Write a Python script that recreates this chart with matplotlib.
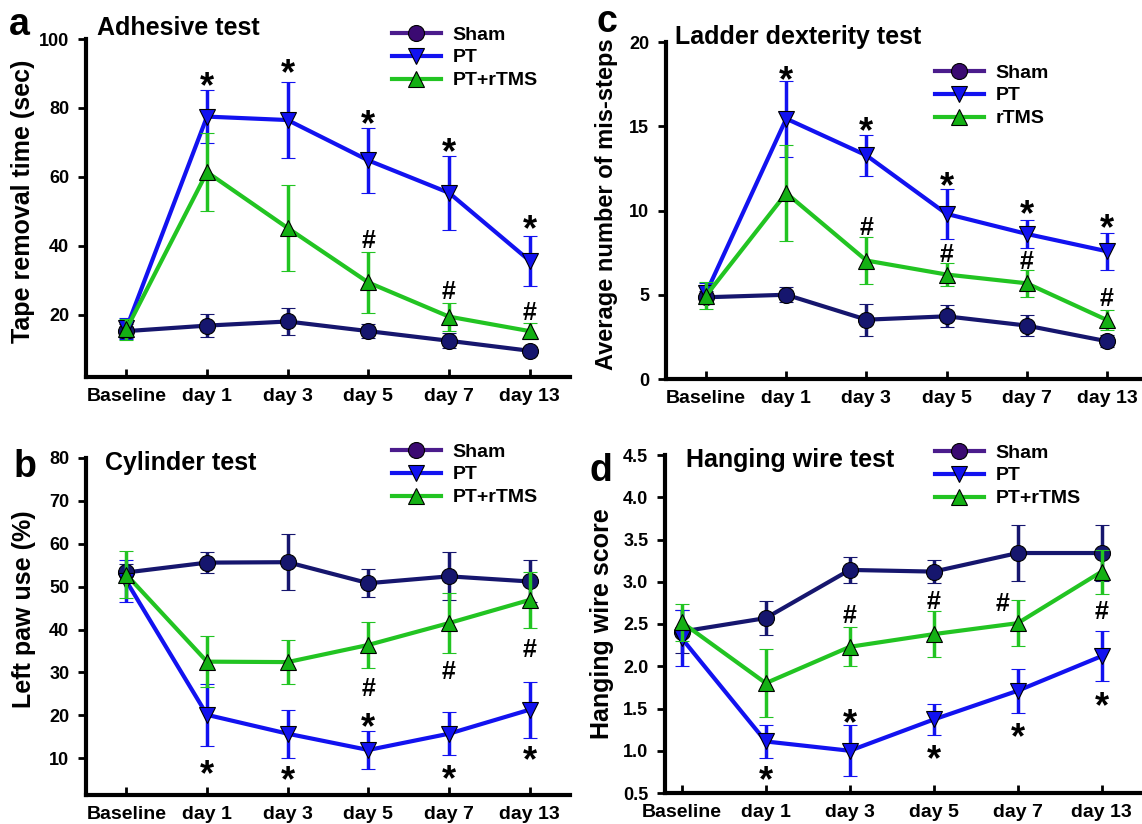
import matplotlib
matplotlib.use("Agg")
import matplotlib.pyplot as plt
from matplotlib.lines import Line2D

plt.rcParams["font.family"] = ["Liberation Sans", "DejaVu Sans"]
plt.rcParams["font.weight"] = "bold"

days = ["Baseline", "day 1", "day 3", "day 5", "day 7", "day 13"]
x = list(range(len(days)))

# a - adhesive test (sec)
adh_sham = [15.3, 16.9, 18.1, 15.3, 12.5, 9.6]
adh_sham_err = [2.0, 3.3, 4.0, 2.0, 2.2, 1.2]
adh_pt = [16.1, 77.5, 76.5, 64.8, 55.4, 35.7]
adh_pt_err = [3.0, 7.6, 11.0, 9.5, 10.8, 7.3]
adh_rtms = [15.8, 61.4, 45.2, 29.4, 19.5, 15.3]
adh_rtms_err = [3.0, 11.4, 12.6, 8.7, 4.1, 2.3]
adh_star = [(1, 89.1), (2, 92.7), (3, 77.9), (4, 69.9), (5, 47.4)]
adh_hash = [(3, 42.0), (4, 27.3), (5, 21.0)]

# b - cylinder test (%)
cyl_sham = [53.3, 55.6, 55.7, 50.8, 52.4, 51.2]
cyl_sham_err = [2.0, 2.4, 6.5, 3.2, 5.6, 4.9]
cyl_pt = [51.3, 20.1, 15.7, 11.9, 15.7, 21.3]
cyl_pt_err = [5.0, 7.2, 5.6, 4.5, 5.0, 6.5]
cyl_rtms = [52.8, 32.5, 32.4, 36.4, 41.5, 46.9]
cyl_rtms_err = [5.4, 6.0, 5.1, 5.4, 7.0, 6.6]
cyl_star = [(1, 8.4), (2, 6.9), (3, 19.3), (4, 7.3), (5, 11.6)]
cyl_hash = [(3, 26.7), (4, 30.6), (5, 35.7)]

# c - ladder dexterity test
lad_sham = [4.85, 5.0, 3.52, 3.72, 3.17, 2.24]
lad_sham_err = [0.4, 0.45, 0.95, 0.65, 0.6, 0.35]
lad_pt = [5.1, 15.45, 13.27, 9.8, 8.61, 7.58]
lad_pt_err = [0.6, 2.25, 1.2, 1.5, 0.85, 1.1]
lad_rtms = [4.95, 11.03, 7.03, 6.2, 5.68, 3.5]
lad_rtms_err = [0.8, 2.85, 1.4, 0.7, 0.8, 0.6]
lad_star = [(1, 18.3), (2, 15.25), (3, 12.0), (4, 10.3), (5, 9.5)]
lad_hash = [(2, 9.1), (3, 7.47), (4, 7.07), (5, 4.85)]

# d - hanging wire test
wire_sham = [2.41, 2.57, 3.14, 3.12, 3.34, 3.34]
wire_sham_err = [0.25, 0.2, 0.15, 0.14, 0.33, 0.33]
wire_pt = [2.33, 1.11, 1.0, 1.37, 1.71, 2.12]
wire_pt_err = [0.33, 0.2, 0.3, 0.18, 0.26, 0.3]
wire_rtms = [2.52, 1.8, 2.23, 2.38, 2.51, 3.12]
wire_rtms_err = [0.22, 0.4, 0.23, 0.27, 0.27, 0.26]
wire_star = [(1, 0.76), (2, 1.44), (3, 1.01), (4, 1.27), (5, 1.63)]
wire_hash = [(2, 2.62), (3, 2.79), (3.82, 2.76), (5, 2.67)]

SHAM = "#16166e"
PT = "#1212f0"
RTMS = "#22c422"
RTMS_FACE = "#14b014"
SHAM_LEG = "#4b1c8c"
SHAM_LEG_FACE = "#3b0a72"

W, H = 1142, 824
fig = plt.figure(figsize=(W / 100, H / 100), dpi=100)


def px_rect(left, right, top, bottom):
    return [left / W, 1 - bottom / H, (right - left) / W, (bottom - top) / H]


def draw_panel(ax, sham, sham_err, pt, pt_err, rtms, rtms_err):
    kw = dict(lw=3, ms=11.5, mec="black", mew=0.8, capsize=5, capthick=2.5, elinewidth=2.5)
    ax.errorbar(x, sham, yerr=sham_err, color=SHAM, marker="o", mfc=SHAM, zorder=3, **kw)
    ax.errorbar(x, pt, yerr=pt_err, color=PT, marker="v", mfc=PT, zorder=4, **kw)
    ax.errorbar(x, rtms, yerr=rtms_err, color=RTMS, marker="^", mfc=RTMS_FACE, zorder=5, **kw)
    for side in ["top", "right"]:
        ax.spines[side].set_visible(False)
    for side in ["left", "bottom"]:
        ax.spines[side].set_linewidth(3)
    ax.set_xticks(x)
    ax.set_xticklabels(days, fontsize=14, fontweight="bold")
    ax.tick_params(axis="x", direction="in", length=6, width=2, pad=8)
    ax.tick_params(axis="y", direction="out", length=6, width=2, pad=6, labelsize=13)
    for lab in ax.get_yticklabels():
        lab.set_fontweight("bold")


def marks(ax, stars, hashes):
    for xx, yy in stars:
        ax.annotate("*", (xx, yy), xytext=(0, -14.5), textcoords="offset points",
                    ha="center", va="baseline", fontsize=26, fontweight="bold", zorder=6)
    for xx, yy in hashes:
        ax.annotate("#", (xx, yy), xytext=(0, -6.5), textcoords="offset points",
                    ha="center", va="baseline", fontsize=18, fontweight="bold", zorder=6)


def legend(ax, lx, ly, third):
    handles = [
        Line2D([], [], color=SHAM_LEG, lw=3, marker="o", ms=11.5, mfc=SHAM_LEG_FACE, mec="black", mew=0.8),
        Line2D([], [], color=PT, lw=3, marker="v", ms=11.5, mfc=PT, mec="black", mew=0.8),
        Line2D([], [], color=RTMS, lw=3, marker="^", ms=11.5, mfc=RTMS_FACE, mec="black", mew=0.8),
    ]
    ax.legend(handles, ["Sham", "PT", third], loc="upper left",
              bbox_to_anchor=(lx / W, 1 - ly / H), bbox_transform=fig.transFigure,
              frameon=False, borderpad=0, borderaxespad=0, handlelength=2.5,
              handletextpad=0.6, labelspacing=0.27, numpoints=1,
              prop={"size": 14, "weight": "bold"})


# a
ax_a = fig.add_axes(px_rect(86, 570, 39, 377))
draw_panel(ax_a, adh_sham, adh_sham_err, adh_pt, adh_pt_err, adh_rtms, adh_rtms_err)
ax_a.set_xlim(-0.5, 5.5)
ax_a.set_ylim(2, 100)
ax_a.set_yticks([20, 40, 60, 80, 100])
ax_a.set_ylabel("Tape removal time (sec)", fontsize=18, fontweight="bold")
ax_a.yaxis.set_label_coords(-0.105, 0.52)
marks(ax_a, adh_star, adh_hash)
legend(ax_a, 392, 26, "PT+rTMS")

# b
ax_b = fig.add_axes(px_rect(86, 570, 458, 795))
draw_panel(ax_b, cyl_sham, cyl_sham_err, cyl_pt, cyl_pt_err, cyl_rtms, cyl_rtms_err)
ax_b.set_xlim(-0.5, 5.5)
ax_b.set_ylim(1.4, 80)
ax_b.set_yticks(range(10, 81, 10))
ax_b.set_ylabel("Left paw use (%)", fontsize=18, fontweight="bold")
ax_b.yaxis.set_label_coords(-0.104, 0.55)
marks(ax_b, cyl_star, cyl_hash)
legend(ax_b, 392, 443, "PT+rTMS")

# c
ax_c = fig.add_axes(px_rect(666, 1147, 42, 379))
draw_panel(ax_c, lad_sham, lad_sham_err, lad_pt, lad_pt_err, lad_rtms, lad_rtms_err)
ax_c.set_xlim(-0.5, 5.5)
ax_c.set_ylim(0, 20)
ax_c.set_yticks([0, 5, 10, 15, 20])
ax_c.set_ylabel("Average number of mis-steps", fontsize=17, fontweight="bold")
ax_c.yaxis.set_label_coords(-0.1, 0.52)
marks(ax_c, lad_star, lad_hash)
legend(ax_c, 935, 64, "rTMS")

# d
ax_d = fig.add_axes(px_rect(665, 1142, 455, 793))
draw_panel(ax_d, wire_sham, wire_sham_err, wire_pt, wire_pt_err, wire_rtms, wire_rtms_err)
ax_d.set_xlim(-0.2, 5.48)
ax_d.set_ylim(0.5, 4.5)
ax_d.set_yticks([0.5, 1.0, 1.5, 2.0, 2.5, 3.0, 3.5, 4.0, 4.5])
ax_d.set_yticklabels(["%.1f" % v for v in ax_d.get_yticks()])
for lab in ax_d.get_yticklabels():
    lab.set_fontweight("bold")
ax_d.set_ylabel("Hanging wire score", fontsize=18, fontweight="bold")
ax_d.yaxis.set_label_coords(-0.107, 0.5)
marks(ax_d, wire_star, wire_hash)
legend(ax_d, 935, 444, "PT+rTMS")

# titles and panel letters
fig.text(97 / W, 1 - 28 / H, "Adhesive test", fontsize=18, fontweight="bold", va="center")
fig.text(675 / W, 1 - 37 / H, "Ladder dexterity test", fontsize=18, fontweight="bold", va="center")
fig.text(105 / W, 1 - 463 / H, "Cylinder test", fontsize=18, fontweight="bold", va="center")
fig.text(686 / W, 1 - 460 / H, "Hanging wire test", fontsize=18, fontweight="bold", va="center")
fig.text(19 / W, 1 - 25 / H, "a", fontsize=27, fontweight="bold", ha="center", va="center")
fig.text(607 / W, 1 - 22 / H, "c", fontsize=27, fontweight="bold", ha="center", va="center")
fig.text(25 / W, 1 - 467 / H, "b", fontsize=27, fontweight="bold", ha="center", va="center")
fig.text(601 / W, 1 - 471 / H, "d", fontsize=27, fontweight="bold", ha="center", va="center")

fig.savefig("out.png", dpi=100)
